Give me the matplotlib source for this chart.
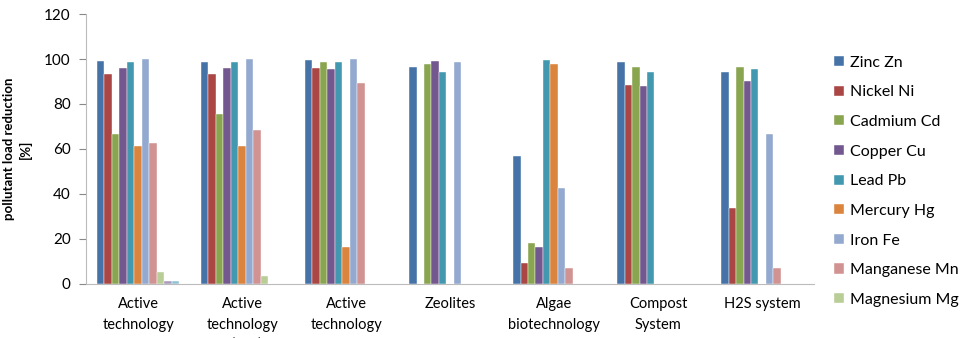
import numpy as np
import matplotlib
matplotlib.use("Agg")
import matplotlib.pyplot as plt

plt.rcParams['font.family'] = ['Lato', 'DejaVu Sans']

# categories and series
categories = ['Active\ntechnology\nNaOH', 'Active\ntechnology\nCa(OH)2', 'Active\ntechnology\nNa2CO3',
              'Zeolites', 'Algae\nbiotechnology', 'Compost\nSystem', 'H2S system']

zinc = [99.3, 98.6, 99.6, 96.7, 57.0, 98.6, 94.4]
nickel = [93.3, 93.3, 96.1, 0, 9.2, 88.4, 33.6]
cadmium = [66.5, 75.6, 98.6, 97.7, 18.0, 96.7, 96.7]
copper = [96.1, 96.1, 95.8, 99.3, 16.5, 87.8, 90.4]
lead = [98.6, 98.6, 98.9, 94.4, 99.5, 94.4, 95.8]
mercury = [61.3, 61.3, 16.5, 0, 97.9, 0, 0]
iron = [100, 100, 100, 98.9, 42.5, 0, 66.5]
manganese = [62.5, 68.5, 89.5, 0, 7.0, 0, 7.0]
magnesium = [5.1, 3.6, 0, 0, 0, 0, 0]
extra1 = [1.2, 0, 0, 0, 0, 0, 0]
extra2 = [1.2, 0, 0, 0, 0, 0, 0]

series = [zinc, nickel, cadmium, copper, lead, mercury, iron, manganese, magnesium, extra1, extra2]
labels = ['Zinc Zn', 'Nickel Ni', 'Cadmium Cd', 'Copper Cu', 'Lead Pb', 'Mercury Hg',
          'Iron Fe', 'Manganese Mn', 'Magnesium Mg', '_nolegend_', '_nolegend_']
colors = ['#4573A8', '#AA4644', '#8AA54F', '#72588F', '#4198AF', '#DB843D',
          '#93A9CF', '#D19392', '#B9CD96', '#A99BBD', '#92C3D4']

fig = plt.figure(figsize=(9.67, 3.38), dpi=100)
ax = fig.add_axes([0.089, 0.161, 0.753, 0.797])

x = np.arange(len(categories))
n = len(series)
w = 0.79 / n
for i, vals in enumerate(series):
    ax.bar(x - 0.395 + w * (i + 0.5), vals, w, color=colors[i], label=labels[i],
           edgecolor='white', linewidth=0.3)

ax.set_xlim(-0.5, len(categories) - 0.5)
ax.set_ylim(0, 120)
ax.set_yticks(range(0, 121, 20))
ax.set_xticks(x)
ax.set_xticklabels(categories, fontsize=10.5, linespacing=1.55)
ax.tick_params(axis='x', length=0, pad=10)
ax.tick_params(axis='y', labelsize=11, color='#888888', length=5, pad=6)
ax.set_ylabel('pollutant load reduction\n[%]', fontsize=9.5, fontweight='bold', labelpad=9,
              linespacing=1.3)

for s in ['top', 'right']:
    ax.spines[s].set_visible(False)
ax.spines['left'].set_color('#bbbbbb')
ax.spines['bottom'].set_color('#bbbbbb')

fig.legend(loc='upper left', bbox_to_anchor=(0.848, 0.878), frameon=False, fontsize=11.5,
           handlelength=0.6, handleheight=0.6, handletextpad=0.4, labelspacing=0.98)

fig.savefig('out.png', dpi=100)
